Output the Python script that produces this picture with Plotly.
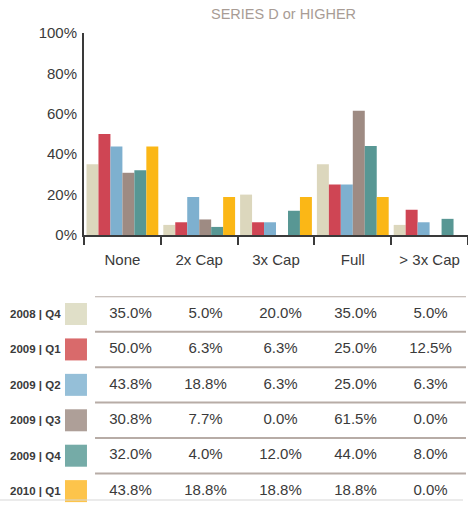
import plotly.graph_objects as go

categories = ["None", "2x Cap", "3x Cap", "Full", "> 3x Cap"]
quarters = ["2008 | Q4", "2009 | Q1", "2009 | Q2", "2009 | Q3", "2009 | Q4", "2010 | Q1"]

q4_2008 = [35.0, 5.0, 20.0, 35.0, 5.0]
q1_2009 = [50.0, 6.3, 6.3, 25.0, 12.5]
q2_2009 = [43.8, 18.8, 6.3, 25.0, 6.3]
q3_2009 = [30.8, 7.7, 0.0, 61.5, 0.0]
q4_2009 = [32.0, 4.0, 12.0, 44.0, 8.0]
q1_2010 = [43.8, 18.8, 18.8, 18.8, 0.0]

series = [q4_2008, q1_2009, q2_2009, q3_2009, q4_2009, q1_2010]

bar_colors = ["#dcd7bd", "#cf4554", "#7eb0cf", "#9e8b83", "#589794", "#fbb716"]
swatch_colors = ["#e0dfc8", "#d96a6b", "#95bfd8", "#ae9f98", "#75aba7", "#fdc44b"]

W, H = 468, 506
TEXT = "#3a3a3a"
FONT = "Liberation Sans, Arial, Helvetica, sans-serif"

fig = go.Figure()

# grouped bars, one trace per quarter
for name, vals, col in zip(quarters, series, bar_colors):
    fig.add_trace(go.Bar(
        x=categories, y=[v / 100 for v in vals], name=name,
        marker=dict(color=col, line=dict(width=0)),
        xaxis="x", yaxis="y", showlegend=False,
    ))

# table below the chart
col_idx = list(range(len(categories)))
for i, (vals, sw) in enumerate(zip(series, swatch_colors)):
    fig.add_trace(go.Scatter(
        x=col_idx, y=[i] * len(vals), mode="text",
        text=[f"{v:.1f}%" for v in vals],
        textfont=dict(size=15, color=TEXT, family=FONT),
        xaxis="x2", yaxis="y2", showlegend=False, hoverinfo="skip",
    ))
    fig.add_trace(go.Scatter(
        x=[-0.727], y=[i], mode="markers",
        marker=dict(symbol="square", size=22, color=sw, line=dict(width=0)),
        xaxis="x2", yaxis="y2", showlegend=False, cliponaxis=False, hoverinfo="skip",
    ))
    fig.add_annotation(
        x=-0.905, y=i, xref="x2", yref="y2", text=quarters[i], showarrow=False,
        xanchor="right", yanchor="middle",
        font=dict(family=FONT, size=11.5, color=TEXT, weight="bold"),
    )
    fig.add_shape(
        type="line", xref="x2", yref="y2", x0=-0.473, x1=4.473, y0=i - 0.5, y1=i - 0.5,
        line=dict(color="#b7aca6", width=2),
    )

# bottom rule of the table
fig.add_shape(
    type="line", xref="paper", yref="y2", x0=0, x1=463 / W, y0=5.25, y1=5.25,
    line=dict(color="#d8d8d8", width=1.2),
)

fig.add_annotation(
    x=283 / W, y=(H - 14) / H, xref="paper", yref="paper", text="SERIES D or HIGHER",
    showarrow=False, xanchor="center", yanchor="middle",
    font=dict(family=FONT, size=14.5, color="#a89c95"),
)

fig.update_layout(
    width=W, height=H,
    margin=dict(l=0, r=0, t=0, b=0, autoexpand=False),
    paper_bgcolor="white", plot_bgcolor="white",
    font=dict(family=FONT, color=TEXT),
    barmode="group", bargap=0.065, bargroupgap=0,
    xaxis=dict(
        domain=[84 / W, 1], type="category", showline=True, linecolor=TEXT, linewidth=2,
        ticks="outside", tickson="boundaries", ticklen=8, tickwidth=1.5, tickcolor=TEXT,
        tickfont=dict(size=15, color=TEXT), showgrid=False, ticklabelstandoff=10,
        automargin=False,
    ),
    yaxis=dict(
        domain=[(H - 235) / H, (H - 33) / H], range=[0, 1], dtick=0.2, tickformat=".0%",
        showline=True, linecolor=TEXT, linewidth=2, showgrid=False, zeroline=False,
        ticks="", tickfont=dict(size=15, color=TEXT), ticklabelstandoff=2,
        automargin=False,
    ),
    xaxis2=dict(domain=[0, 1], range=[-1.74, 4.5], visible=False, anchor="y2", automargin=False),
    yaxis2=dict(domain=[0, (H - 296.3) / H], range=[5.42, -0.5], visible=False, anchor="x2",
                automargin=False),
)

fig.write_html("out.html", config={"displayModeBar": False},
               post_script="document.body.style.margin='0';document.body.style.overflow='hidden';")
